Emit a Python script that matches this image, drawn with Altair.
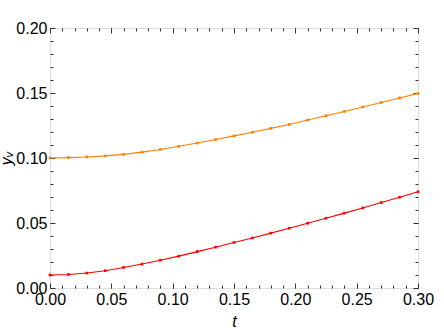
import altair as alt
import pandas as pd

t_vals = [0.0, 0.015, 0.03, 0.045, 0.06, 0.075, 0.09, 0.105, 0.12, 0.135, 0.15,
          0.165, 0.18, 0.195, 0.21, 0.225, 0.24, 0.255, 0.27, 0.285, 0.3]
orange_vals = [0.1000, 0.1003, 0.1008, 0.1016, 0.1028, 0.1045, 0.1066, 0.1090, 0.1115,
               0.1142, 0.1170, 0.1198, 0.1228, 0.1258, 0.1292, 0.1325, 0.1358, 0.1392,
               0.1427, 0.1462, 0.1497]
red_vals = [0.0100, 0.0104, 0.0115, 0.0133, 0.0158, 0.0184, 0.0214, 0.0245, 0.0280,
            0.0314, 0.0350, 0.0385, 0.0422, 0.0460, 0.0498, 0.0537, 0.0576, 0.0616,
            0.0657, 0.0698, 0.0740]
x_major = [0.0, 0.05, 0.10, 0.15, 0.20, 0.25, 0.30]
x_minor = [round(i * 0.01, 2) for i in range(31)]
y_major = [0.0, 0.05, 0.10, 0.15, 0.20]
y_minor = [round(i * 0.01, 2) for i in range(21)]

df_o = pd.DataFrame({"t": t_vals, "y": orange_vals})
df_r = pd.DataFrame({"t": t_vals, "y": red_vals})

FRAME = "#333333"
FONT = "Liberation Sans"
xs = alt.Scale(domain=[0, 0.3], nice=False, zero=False)
ys = alt.Scale(domain=[0, 0.2], nice=False, zero=False)


def ax(orient, values, size, labels=False, title=None, lp=3, tp=4):
    kw = dict(orient=orient, values=values, tickSize=size, offset=-size, domain=False,
              grid=False, tickColor=FRAME, tickWidth=1, labels=labels, format=".2f",
              labelFont=FONT, labelFontSize=16, labelColor="black", labelPadding=lp,
              labelFlush=False, labelOverlap=False, labelBound=False)
    if title is not None:
        kw.update(title=title, titleFont=FONT, titleFontSize=16, titleFontStyle="italic",
                  titleFontWeight="normal", titleColor="black", titlePadding=tp)
    else:
        kw.update(title=None)
    return alt.Axis(**kw)


l1 = alt.Chart(df_o).mark_line(color="#FF8000", strokeWidth=1.1).encode(
    x=alt.X("t:Q", scale=xs, axis=ax("bottom", x_major, 5, labels=True, title="t", lp=3, tp=6)),
    y=alt.Y("y:Q", scale=ys, axis=ax("left", y_major, 5, labels=True, title="yᵥ", lp=3, tp=1)),
)
l2 = alt.Chart(df_r).mark_line(color="#FF0000", strokeWidth=1.1).encode(
    x=alt.X("t:Q", scale=xs, axis=ax("top", x_major, 5)),
    y=alt.Y("y:Q", scale=ys, axis=ax("right", y_major, 5)),
)
p1 = alt.Chart(df_o).mark_square(color="#FF8000", size=7, opacity=1).encode(
    x=alt.X("t:Q", scale=xs, axis=ax("bottom", x_minor, 3)),
    y=alt.Y("y:Q", scale=ys, axis=ax("left", y_minor, 3)),
)
p2 = alt.Chart(df_r).mark_square(color="#FF0000", size=7, opacity=1).encode(
    x=alt.X("t:Q", scale=xs, axis=ax("top", x_minor, 3)),
    y=alt.Y("y:Q", scale=ys, axis=ax("right", y_minor, 3)),
)

chart = alt.layer(l1, l2, p1, p2).resolve_scale(x="shared", y="shared").resolve_axis(
    x="independent", y="independent"
).properties(
    width=368, height=260,
    autosize=alt.AutoSizeParams(type="none"),
    padding={"left": 50, "top": 28, "right": 26, "bottom": 41},
).configure_view(stroke=FRAME, strokeWidth=1).configure(background="white")

chart.save("out.html", embed_options={"renderer": "svg", "actions": False})
